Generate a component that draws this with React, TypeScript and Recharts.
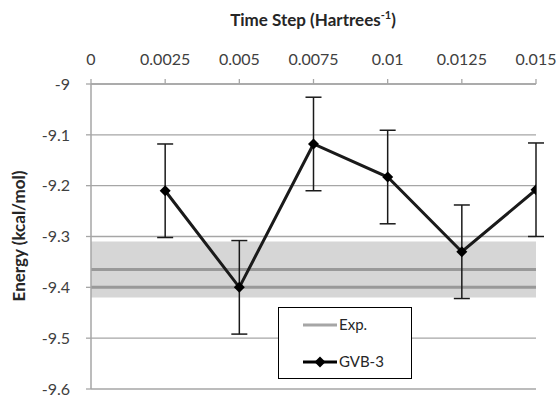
import React from 'react';
import {
  ComposedChart,
  Line,
  XAxis,
  YAxis,
  CartesianGrid,
  ReferenceArea,
  ReferenceLine,
  ErrorBar,
  Legend,
  Label,
} from 'recharts';

const timeSteps = [0.0025, 0.005, 0.0075, 0.01, 0.0125, 0.015];
const gvbEnergy = [-9.21, -9.4, -9.118, -9.183, -9.33, -9.208];
const gvbError = [0.092, 0.092, 0.092, 0.092, 0.092, 0.092];
const xTicks = [0, 0.0025, 0.005, 0.0075, 0.01, 0.0125, 0.015];
const yTicks = [-9, -9.1, -9.2, -9.3, -9.4, -9.5, -9.6];
const expBand = [-9.42, -9.31];
const expLines = [-9.365, -9.4];

const data = timeSteps.map((x, i) => ({ x, y: gvbEnergy[i], err: gvbError[i] }));

const FONT = 'Lato, "Open Sans", sans-serif';
const GRID = '#a6a6a6';
const TEXT = '#404040';

const Diamond = (props: any) => {
  const { cx, cy } = props;
  if (cx == null || cy == null) return null;
  const r = 5.5;
  return (
    <polygon
      points={`${cx},${cy - r} ${cx + r},${cy} ${cx},${cy + r} ${cx - r},${cy}`}
      fill="#000"
    />
  );
};

const LegendBox = () => (
  <div
    style={{
      position: 'relative',
      width: 134,
      height: 72,
      boxSizing: 'border-box',
      border: '1.5px solid #000',
      background: '#fff',
      fontFamily: FONT,
      fontSize: 15,
      color: '#262626',
    }}
  >
    <svg width={72} height={72} style={{ position: 'absolute', left: 0, top: 0 }}>
      <line x1={24} x2={58} y1={17} y2={17} stroke="#a6a6a6" strokeWidth={3} />
      <line x1={24} x2={58} y1={54} y2={54} stroke="#000" strokeWidth={3} />
      <polygon points="41,48.5 46.5,54 41,59.5 35.5,54" fill="#000" />
    </svg>
    <div style={{ position: 'absolute', left: 60, top: 7, lineHeight: '18px' }}>Exp.</div>
    <div style={{ position: 'absolute', left: 60, top: 44, lineHeight: '18px' }}>GVB-3</div>
  </div>
);

export default function App() {
  return (
    <div style={{ position: 'absolute', left: 0, top: 0, width: 557, height: 396, background: '#fff' }}>
      <ComposedChart
        width={557}
        height={396}
        data={data}
        margin={{ top: 0, right: 21, bottom: 7, left: 0 }}
      >
        <CartesianGrid vertical={false} stroke={GRID} strokeWidth={1.3} />
        <ReferenceArea
          y1={expBand[0]}
          y2={expBand[1]}
          fill="#d6d6d6"
          fillOpacity={1}
          stroke="none"
        />
        {expLines.map((v) => (
          <ReferenceLine key={v} y={v} stroke="#999999" strokeWidth={3} />
        ))}
        <XAxis
          type="number"
          dataKey="x"
          orientation="top"
          domain={[0, 0.015]}
          ticks={xTicks}
          height={84}
          tickSize={5}
          tickMargin={14}
          axisLine={{ stroke: GRID, strokeWidth: 1.3 }}
          tickLine={{ stroke: GRID, strokeWidth: 1.3 }}
          tick={{ fill: TEXT, fontSize: 16, fontFamily: FONT }}
          tickFormatter={(v: number) => String(v)}
          allowDataOverflow
        >
          <Label
            content={() => (
              <text
                x={313}
                y={26}
                textAnchor="middle"
                fontFamily={FONT}
                fontWeight="bold"
                fontSize={17}
                fill="#262626"
              >
                <tspan>Time Step (Hartrees</tspan>
                <tspan fontSize={11} dy={-7}>-1</tspan>
                <tspan dy={7}>)</tspan>
              </text>
            )}
          />
        </XAxis>
        <YAxis
          type="number"
          domain={[-9.6, -9]}
          ticks={yTicks}
          width={91}
          tickSize={5}
          tickMargin={16}
          interval={0}
          axisLine={{ stroke: GRID, strokeWidth: 1.5 }}
          tickLine={{ stroke: GRID, strokeWidth: 1.3 }}
          tick={{ fill: TEXT, fontSize: 16, fontFamily: FONT }}
          tickFormatter={(v: number) => String(v)}
          allowDataOverflow
        >
          <Label
            content={() => (
              <text
                x={25}
                y={236}
                transform="rotate(-90 25 236)"
                textAnchor="middle"
                fontFamily={FONT}
                fontWeight="bold"
                fontSize={17}
                fill="#262626"
              >
                Energy (kcal/mol)
              </text>
            )}
          />
        </YAxis>
        <Line
          dataKey="y"
          stroke="#1a1a1a"
          strokeWidth={3}
          dot={<Diamond />}
          activeDot={false}
          isAnimationActive={false}
        >
          <ErrorBar dataKey="err" width={8} stroke="#1a1a1a" strokeWidth={1.5} direction="y" />
        </Line>
        <Legend
          layout="vertical"
          align="center"
          verticalAlign="middle"
          content={() => <LegendBox />}
          wrapperStyle={{ left: 278, top: 307, width: 134, height: 72 }}
        />
      </ComposedChart>
    </div>
  );
}
